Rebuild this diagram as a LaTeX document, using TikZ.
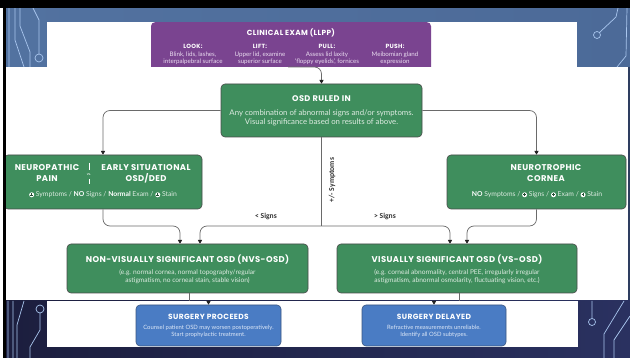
\documentclass[tikz,border=0pt]{standalone}
\usepackage{fontspec}
\setmainfont{Lato}
\newfontfamily\ttlfont[LetterSpace=5]{Poppins}
\newfontfamily\lblfont{Carlito}
\usetikzlibrary{arrows.meta}

\definecolor{osdgreen}{HTML}{3F8E5D}
\definecolor{llpp}{HTML}{7A4490}
\definecolor{surgblue}{HTML}{4A7CC4}
\definecolor{bluedge}{HTML}{3A5680}
\definecolor{edge}{HTML}{4A4A4A}
\definecolor{wire}{HTML}{6A6A6A}
\definecolor{tipc}{HTML}{222222}
\definecolor{navy}{HTML}{1C1E3E}
\definecolor{navyB}{HTML}{2A3160}
\definecolor{slideA}{HTML}{5272A0}
\definecolor{slideB}{HTML}{7D9CC2}
\definecolor{slideC}{HTML}{4C6A98}
\definecolor{trace}{HTML}{A9C6EE}
\definecolor{subtxt}{HTML}{DDEBE1}
\definecolor{lilac}{HTML}{EADCF0}
\definecolor{paleblue}{HTML}{DCE7F7}
\definecolor{rim}{HTML}{2E3E60}

% white disc with a plus, used as the "positive" marker
\newcommand\pdot{\tikz[baseline=-2.1pt,x=1pt,y=1pt]{\fill[white] (0,0) circle (2.5pt);
  \draw[osdgreen!55!black,line width=0.6pt] (-1.4,0)--(1.4,0) (0,-1.4)--(0,1.4);}}
\newcommand\ttl{\ttlfont\bfseries}

\begin{document}
\begin{tikzpicture}[x=1pt,y=-1pt,
  box/.style={draw=edge, line width=0.6pt, rounded corners=4pt, inner sep=0pt},
  greenbox/.style={box, fill=osdgreen},
  bluebox/.style={box, fill=surgblue, draw=bluedge},
  conn/.style={draw=wire, line width=0.7pt, rounded corners=7pt},
  tip/.style={-{Triangle[length=3.8pt,width=4.2pt,color=tipc]}},
  bigttl/.style={text=white, font=\fontsize{8.4}{11}\ttl, align=center, inner sep=0pt},
  midttl/.style={text=white, font=\fontsize{7.5}{8}\ttl, inner sep=0pt},
  subtext/.style={text=subtxt, font=\fontsize{6.6}{8}\selectfont, align=center, inner sep=0pt},
  marktext/.style={text=subtxt, font=\fontsize{6.8}{8}\selectfont, inner sep=0pt},
  lbl/.style={text=black!80, font=\fontsize{7.6}{8}\lblfont\bfseries, inner sep=0pt},
  tracel/.style={draw=trace, line width=0.7pt}
]
\useasboundingbox (0,0) rectangle (630,358);

% slide background and frame
\fill[white] (0,0) rectangle (630,358);
\shade[left color=slideA, middle color=slideB, right color=slideC] (6,8) rectangle (630,67);
\fill[white] (47,22) rectangle (577,67);
\fill[white] (6,67) rectangle (628,301);
\fill[rim] (628,67) rectangle (630,301);
\shade[left color=navy, right color=navyB] (6,301) rectangle (630,358);
\fill[white] (47,301) rectangle (578,347);

% circuit traces in the corners
\draw[tracel] (9,8)--(9,67) (15,8)--(15,40)--(24,67) (20,8)--(20,26)--(30,52)--(30,67)
  (33,8)--(39,20)--(39,54);
\draw[tracel] (39,58) circle (4);
\draw[tracel] (597,35) circle (3.5) (599.5,32.5)--(616,17)--(618,8)
  (627,8)--(626,56)--(617,67);
\draw[tracel] (8,301)--(8,358) (13,301)--(13,358) (24,301)--(17,325)--(17,358)
  (40,313)--(40,330)--(30,347)--(30,358);
\draw[tracel] (40,309) circle (4);
\draw[tracel] (624,301)--(604,334)--(604,358) (630,316)--(614,340)--(614,358)
  (592,301)--(592,318);
\draw[tracel] (592,322) circle (3.5);

% clinical exam panel (top part only is visible)
\begin{scope}
  \clip (0,22) rectangle (630,67);
  \node[fill=llpp, rounded corners=4pt, minimum width=280pt, minimum height=60pt,
        inner sep=0pt, anchor=north] (exam) at (291,22) {};
\end{scope}
\node[text=white, font=\fontsize{7.4}{8}\ttl, inner sep=0pt] (examttl) at (291,33) {CLINICAL EXAM (LLPP)};
\tikzset{col/.style={text=lilac, font=\fontsize{6.2}{7.8}\selectfont, align=center, inner sep=0pt}}
\node[col] (look) at (193,54.5) {{\color{white}\fontsize{6}{7.8}\ttl LOOK:}\\Blink, lids, lashes,\\interpalpebral surface};
\node[col] (lift) at (260,54.5) {{\color{white}\fontsize{6}{7.8}\ttl LIFT:}\\Upper lid, examine\\superior surface};
\node[col] (pull) at (327,54.5) {{\color{white}\fontsize{6}{7.8}\ttl PULL:}\\Assess lid laxity\\‘floppy eyelids’, fornices};
\node[col] (push) at (395,54.5) {{\color{white}\fontsize{6}{7.8}\ttl PUSH:}\\Meibomian gland\\expression};
\coordinate (examout) at (288,67);

% green decision boxes
\node[greenbox, minimum width=201pt, minimum height=53pt] (osd) at (321.5,110.5) {};
\node[greenbox, minimum width=198pt, minimum height=54pt] (neuro) at (103,182) {};
\node[greenbox, minimum width=179pt, minimum height=54pt] (ntc) at (536.5,182) {};
\node[greenbox, minimum width=241pt, minimum height=49pt] (nvs) at (187.5,268.5) {};
\node[greenbox, minimum width=240pt, minimum height=49pt] (vs) at (457,268.5) {};

% outcome boxes
\node[bluebox, minimum width=145pt, minimum height=41pt] (proc) at (208.5,325.5) {};
\node[bluebox, minimum width=144pt, minimum height=41pt] (delay) at (434,325.5) {};

% box texts
\node[midttl, font=\fontsize{8.2}{8}\ttl] (osdttl) at (321.5,99) {OSD RULED IN};
\node[subtext, font=\fontsize{7.8}{9}\selectfont] (osdsub) at (321.5,117.5)
  {Any combination of abnormal signs and/or symptoms.\\Visual significance based on results of above.};

\node[bigttl] (np1) at (47,173.5) {NEUROPATHIC\\PAIN};
\node[bigttl] (np2) at (146,173.5) {EARLY SITUATIONAL\\OSD/DED};
\draw[white, line width=0.4pt] (89,163)--(89,170) (89,179)--(89,184);
\node[text=white, font=\fontsize{3.8}{4}\selectfont, inner sep=0pt] (npvs) at (89,174.5) {vs.};
\node[marktext] (npsub) at (103,195)
  {\pdot\ Symptoms / {\color{white}\bfseries NO} Signs / {\color{white}\bfseries Normal} Exam / \pdot\ Stain};

\node[bigttl] (ntcttl) at (546,173.5) {NEUROTROPHIC\\CORNEA};
\node[marktext] (ntcsub) at (537,195)
  {{\color{white}\bfseries NO} Symptoms / \pdot\ Signs / \pdot\ Exam / \pdot\ Stain};

\node[bigttl] (nvsttl) at (187.5,260) {NON-VISUALLY SIGNIFICANT OSD (NVS-OSD)};
\node[subtext] (nvssub) at (187.5,277)
  {(e.g. normal cornea, normal topography/regular\\astigmatism, no corneal stain, stable vision)};
\node[bigttl] (vsttl) at (457,260) {VISUALLY SIGNIFICANT OSD (VS-OSD)};
\node[subtext] (vssub) at (457,277)
  {(e.g. corneal abnormality, central PEE, irregularly irregular\\astigmatism, abnormal osmolarity, fluctuating vision, etc.)};

\node[midttl] (procttl) at (208.5,317) {SURGERY PROCEEDS};
\node[subtext, text=paleblue, font=\fontsize{5.9}{7}\selectfont] (procsub) at (208.5,331.5)
  {Counsel patient OSD may worsen postoperatively.\\Start prophylactic treatment.};
\node[midttl] (delayttl) at (434,317) {SURGERY DELAYED};
\node[subtext, text=paleblue, font=\fontsize{5.9}{7}\selectfont] (delaysub) at (434,331.5)
  {Refractive measurements unreliable.\\Identify all OSD subtypes.};

% connectors
\draw[conn, tip] (examout) -| (osd.north);
\draw[conn, tip] (osd.west) -| (neuro.north);
\draw[conn, tip] (osd.east) -| (ntc.north);
\coordinate (split) at (osd.south |- 0,226);
\draw[conn] (osd.south) -- (split);
\draw[conn, tip] (split) -| ([xshift=12.5pt]nvs.north);
\draw[conn, tip] (split) -| ([xshift=-7pt]vs.north);
\draw[conn, tip] (neuro.south) -- (neuro.south |- split) -| ([xshift=-7.5pt]nvs.north);
\draw[conn, tip] (ntc.south) -- (ntc.south |- split) -| ([xshift=10pt]vs.north);
\draw[conn] ([xshift=1.5pt]nvs.south) -- ++(0,8);
\draw[conn] ([xshift=2pt]vs.south) -- ++(0,8);
\draw[conn, tip] ([yshift=2.5pt]proc.north) -- (proc.north);
\draw[conn, tip] ([yshift=2.5pt]delay.north) -- (delay.north);

% branch labels
\node[lbl] (lesssigns) at (266,216) {< Signs};
\node[lbl] (moresigns) at (385,216) {> Signs};
\node[lbl, rotate=90] (sympt) at (332,180) {+/- Symptoms};

% black frame edges
\fill[black] (0,0) rectangle (630,8);
\fill[black] (3,0) rectangle (6,358);
\end{tikzpicture}
\end{document}
